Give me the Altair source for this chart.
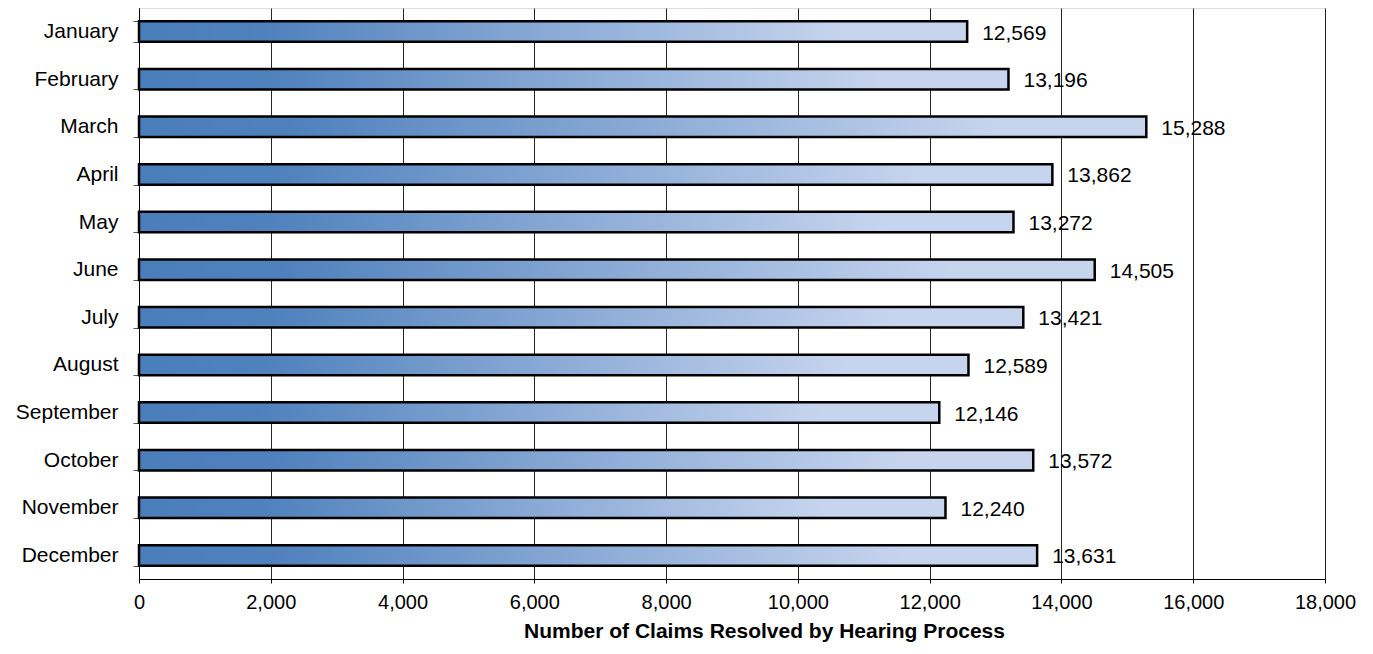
import altair as alt
import pandas as pd

months = ["January", "February", "March", "April", "May", "June", "July",
          "August", "September", "October", "November", "December"]
claims = [12569, 13196, 15288, 13862, 13272, 14505, 13421,
          12589, 12146, 13572, 12240, 13631]
x_ticks = [0, 2000, 4000, 6000, 8000, 10000, 12000, 14000, 16000, 18000]

df = pd.DataFrame({"month": months, "claims": claims})

FONT = "Liberation Sans"

gradient = alt.LinearGradient(
    gradient="linear",
    x1=0, x2=1, y1=0, y2=0,
    stops=[
        alt.GradientStop(color="#4a7ebb", offset=0),
        alt.GradientStop(color="#4f81bd", offset=0.15),
        alt.GradientStop(color="#c6d4ee", offset=0.85),
        alt.GradientStop(color="#c6d4ee", offset=1),
    ],
)

x_enc = alt.X(
    "claims:Q",
    scale=alt.Scale(domain=[0, 18000], nice=False, zero=True),
    axis=alt.Axis(
        values=x_ticks, format=",d", title="Number of Claims Resolved by Hearing Process",
        grid=True, gridColor="#000000", gridOpacity=0.85, gridWidth=1,
        domainColor="#000000", tickColor="#000000", tickSize=4,
        labelFont=FONT, labelFontSize=20, labelColor="#000000", labelPadding=9,
        titleFont=FONT, titleFontSize=21, titleFontWeight="bold", titleColor="#000000",
        titlePadding=8, labelFlush=False, titleX=625, titleAlign="center",
    ),
)
y_enc = alt.Y(
    "month:N", sort=months,
    scale=alt.Scale(paddingInner=0.57, paddingOuter=0.28),
    axis=alt.Axis(
        title=None, grid=False, domainColor="#000000", tickColor="#555555",
        tickSize=6, tickBand="extent", labelFont=FONT, labelFontSize=21,
        labelColor="#000000", labelPadding=15,
    ),
)

bars = alt.Chart(df).mark_bar(
    fill=gradient, stroke="#000000", strokeWidth=2.5, cornerRadius=0,
).encode(x=x_enc, y=y_enc)

labels = alt.Chart(df).mark_text(
    align="left", baseline="middle", dx=15, dy=2, font=FONT, fontSize=21, color="#000000",
).encode(
    x=alt.X("claims:Q", scale=alt.Scale(domain=[0, 18000], nice=False)),
    y=alt.Y("month:N", sort=months),
    text=alt.Text("claims:Q", format=",d"),
)

chart = alt.layer(bars, labels).properties(
    width=1186, height=571,
    autosize=alt.AutoSizeParams(type="none"),
    padding={"left": 131, "top": 0, "right": 40, "bottom": 67},
).configure_view(stroke="#000000", strokeWidth=1).configure(background="white")

chart.save("out.html", embed_options={"renderer": "svg", "actions": False})
